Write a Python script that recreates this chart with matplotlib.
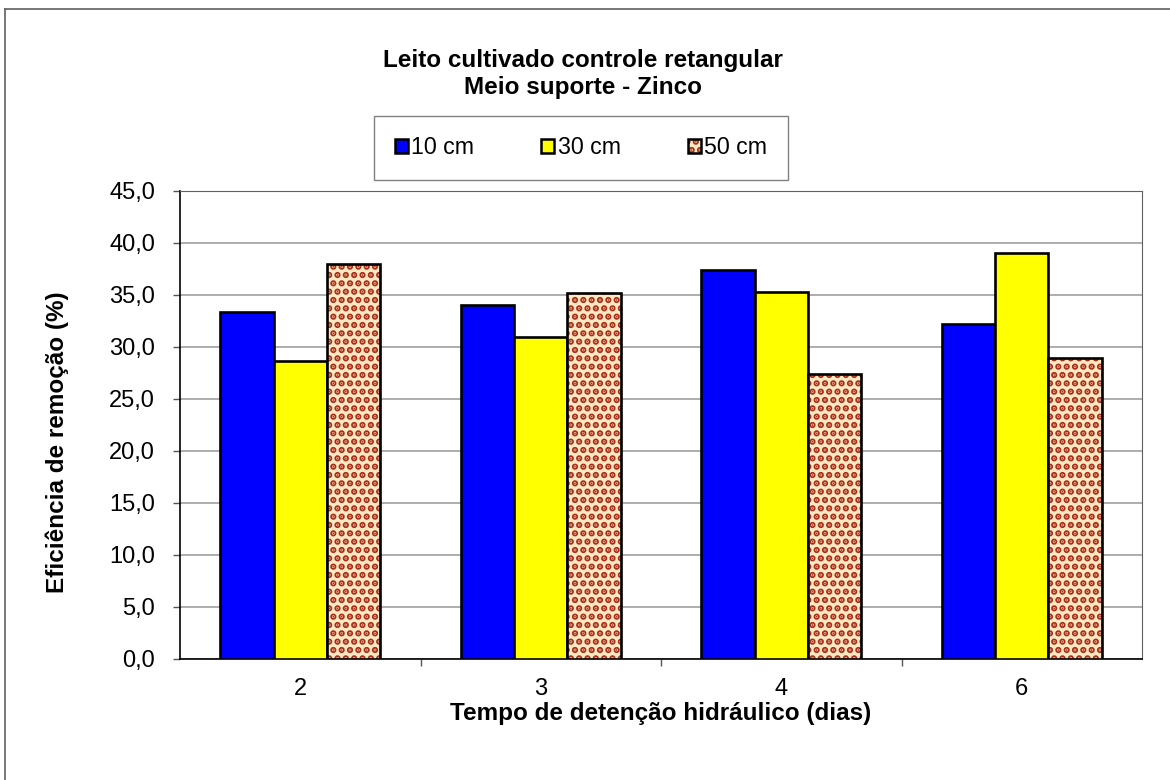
import matplotlib
matplotlib.use('Agg')
import matplotlib.pyplot as plt
import numpy as np
from matplotlib.patches import Patch
from matplotlib.lines import Line2D
from matplotlib.legend_handler import HandlerTuple

plt.rcParams['font.family'] = ['Liberation Sans', 'DejaVu Sans']
plt.rcParams['hatch.linewidth'] = 3.2

# data
dias = ['2', '3', '4', '6']
series = ['10 cm', '30 cm', '50 cm']
v10 = [33.4, 34.0, 37.4, 32.2]
v30 = [28.7, 31.0, 35.3, 39.0]
v50 = [38.0, 35.2, 27.4, 28.9]

fig = plt.figure(figsize=(11.7, 7.8), dpi=100)
ax = fig.add_axes([180/1170, 1-659/780, (1142-180)/1170, (659-191)/780])

x = np.arange(len(dias))
w = 0.222

ax.bar(x - w, v10, w, color='#0000FF', edgecolor='black', linewidth=1.9, zorder=3)
ax.bar(x, v30, w, color='#FFFF00', edgecolor='black', linewidth=1.9, zorder=3)
# dotted bars: hatch layer first, then black outline on top
ax.bar(x + w, v50, w, color='#FFE8C2', edgecolor='#A82E1A', hatch='..', linewidth=0, zorder=3)
ax.bar(x + w, v50, w, fill=False, edgecolor='black', linewidth=1.9, zorder=4)

yt = np.arange(0, 46, 5)
ax.set_xlim(-0.5, len(dias) - 0.5)
ax.set_ylim(0, 45)
ax.set_yticks(yt)
ax.set_yticklabels([('%.1f' % t).replace('.', ',') for t in yt])
ax.set_xticks(x)
ax.set_xticklabels(dias)
ax.set_xticks(np.arange(0.5, len(dias) - 0.5, 1), minor=True)
ax.tick_params(axis='x', which='major', length=0, pad=14, labelsize=17)
ax.tick_params(axis='x', which='minor', length=5, width=1, color='#555555', direction='out')
ax.tick_params(axis='y', length=5, width=1, color='#555555', direction='out', pad=13, labelsize=17)

ax.yaxis.grid(True, color='#A0A0A0', linewidth=1.2, zorder=0)
ax.set_axisbelow(True)
ax.spines['left'].set_color('black')
ax.spines['bottom'].set_color('black')
ax.spines['left'].set_linewidth(1.2)
ax.spines['bottom'].set_linewidth(1.2)
ax.spines['top'].set_color('#606060')
ax.spines['right'].set_color('#606060')

ax.set_ylabel('Eficiência de remoção (%)', fontsize=17.5, fontweight='bold')
ax.yaxis.set_label_coords((69-180)/962, (659-442)/468)
ax.set_xlabel('Tempo de detenção hidráulico (dias)', fontsize=17.5, fontweight='bold', labelpad=1)

fig.text(583/1170, 1-74/780, 'Leito cultivado controle retangular\nMeio suporte - Zinco',
         ha='center', va='center', fontsize=17.5, fontweight='bold', linespacing=1.2)

# legend
h10 = Patch(facecolor='#0000FF', edgecolor='black', linewidth=1.8)
h30 = Patch(facecolor='#FFFF00', edgecolor='black', linewidth=1.8)
h50 = (Patch(facecolor='#FFE8C2', edgecolor='#A82E1A', hatch='..', linewidth=0),
       Patch(fill=False, edgecolor='black', linewidth=1.8))
leg = fig.legend([h10, h30, h50], series, loc='center', bbox_to_anchor=(581/1170, 1-148/780),
                 ncol=3, fontsize=16.7, frameon=True, fancybox=False, edgecolor='#606060',
                 handlelength=0.55, handleheight=0.55, handletextpad=0.15, columnspacing=2.9,
                 borderpad=0.9, borderaxespad=0, handler_map={tuple: HandlerTuple(ndivide=1)})
leg.get_frame().set_linewidth(1.0)

# outer chart frame (left and top edges visible)
fig.add_artist(Line2D([5/1170, 5/1170], [0, 1-9/780], color='#606060', linewidth=1.2))
fig.add_artist(Line2D([5/1170, 1], [1-9/780, 1-9/780], color='#606060', linewidth=1.2))

fig.savefig('out.png', dpi=100)
